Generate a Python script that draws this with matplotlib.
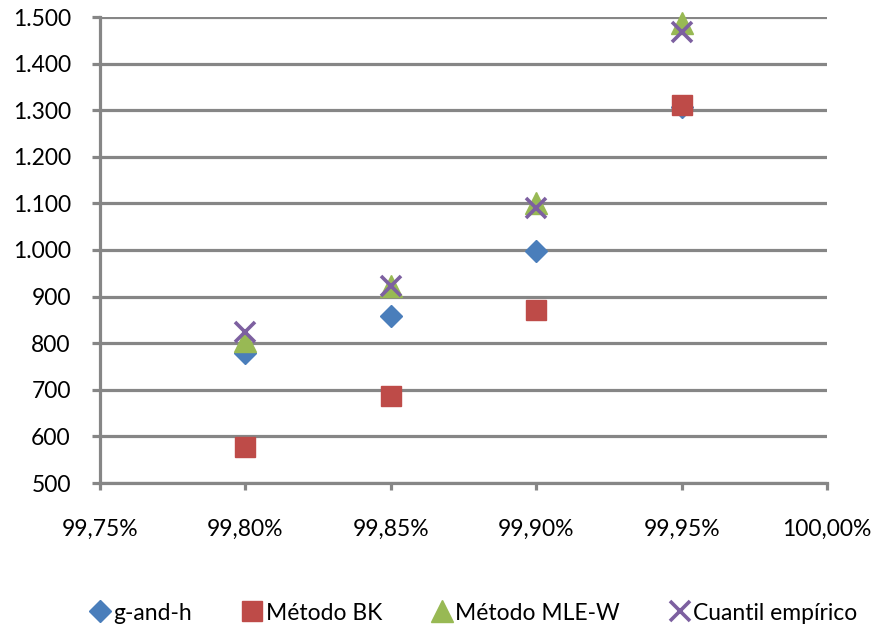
import matplotlib
matplotlib.use("Agg")
import matplotlib.pyplot as plt
from matplotlib.ticker import FuncFormatter, MultipleLocator

plt.rcParams['font.family'] = ['Lato', 'DejaVu Sans']

# Confidence levels (%) and quantile estimates per method
levels = [99.80, 99.85, 99.90, 99.95]
g_and_h = [778, 858, 997, 1306]
metodo_bk = [577, 687, 872, 1312]
metodo_mle_w = [805, 922, 1100, 1488]
cuantil_empirico = [825, 923, 1090, 1468]

series_labels = ["g-and-h", "Método BK", "Método MLE-W", "Cuantil empírico"]

grid_gray = "#868686"

fig = plt.figure(figsize=(8.76, 6.29), dpi=100)
ax = fig.add_axes([100 / 876, 1 - 483 / 629, 727 / 876, 466 / 629])

ax.plot(levels, g_and_h, linestyle="none", marker="D", markersize=11.5,
        color="#4A7EBB", label=series_labels[0], zorder=3, clip_on=False)
ax.plot(levels, metodo_bk, linestyle="none", marker="s", markersize=15,
        color="#BE4B48", label=series_labels[1], zorder=4, clip_on=False)
ax.plot(levels, metodo_mle_w, linestyle="none", marker="^", markersize=16,
        color="#98B954", label=series_labels[2], zorder=5, clip_on=False)
ax.plot(levels, cuantil_empirico, linestyle="none", marker="x", markersize=14,
        markeredgewidth=2.6, color="#7D60A0", label=series_labels[3], zorder=6,
        clip_on=False)

ax.set_xlim(99.75, 100.0)
ax.set_ylim(500, 1500)
ax.xaxis.set_major_locator(MultipleLocator(0.05))
ax.yaxis.set_major_locator(MultipleLocator(100))

ax.xaxis.set_major_formatter(FuncFormatter(lambda v, p: f"{v:.2f}%".replace(".", ",")))
ax.yaxis.set_major_formatter(FuncFormatter(lambda v, p: f"{int(round(v)):,}".replace(",", ".")))

ax.grid(axis="y", color=grid_gray, linewidth=2.3, zorder=1)
ax.set_axisbelow(True)
for side in ("top", "right"):
    ax.spines[side].set_visible(False)
for side in ("left", "bottom"):
    ax.spines[side].set_color(grid_gray)
    ax.spines[side].set_linewidth(2.3)
    ax.spines[side].set_zorder(2)

ax.tick_params(axis="y", direction="out", length=6, width=2.3, color=grid_gray,
               labelsize=16.5, pad=15)
ax.tick_params(axis="x", direction="out", length=5, width=2.3, color=grid_gray,
               labelsize=16.5, pad=21)

fig.legend(loc="center", bbox_to_anchor=(0.54, 16 / 629), ncol=4,
           frameon=False, fontsize=16.5, handletextpad=0.1, columnspacing=2.1,
           handlelength=1.0, borderaxespad=0)

fig.savefig("out.png", dpi=100)
